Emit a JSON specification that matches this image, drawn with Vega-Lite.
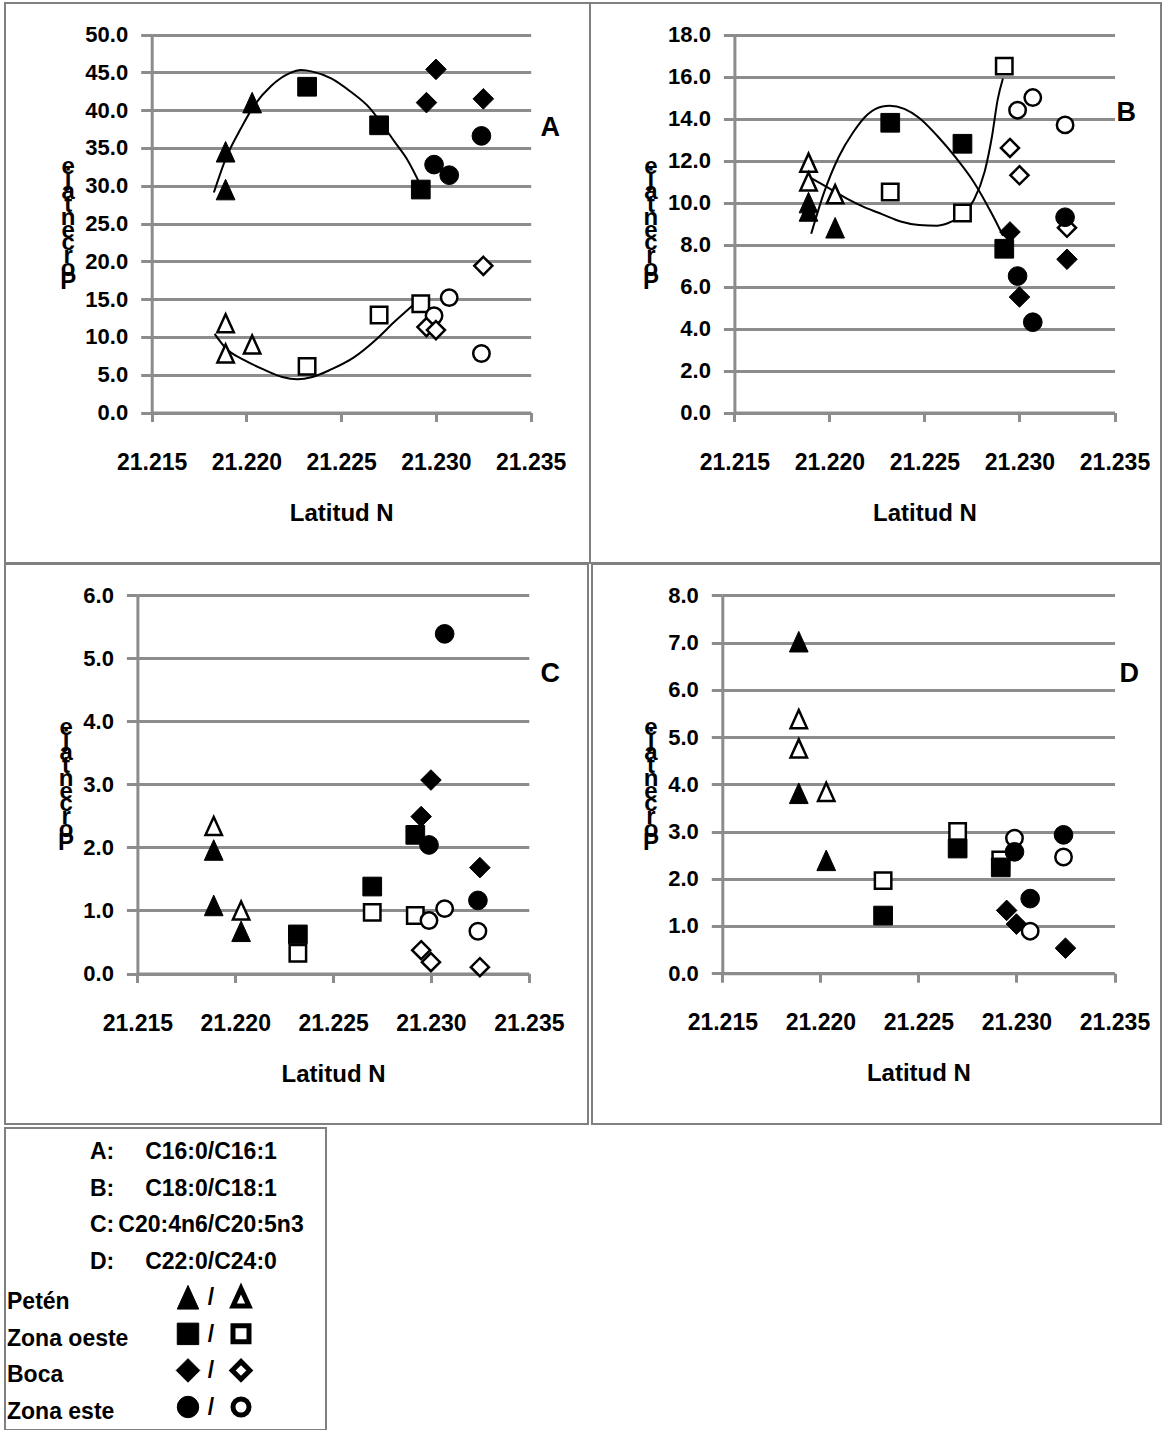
{
  "$schema": "https://vega.github.io/schema/vega-lite/v6.json",
  "padding": {"left": 4, "top": 2, "right": 0, "bottom": 0},
  "background": "white",
  "datasets": {
    "muestras": [
      {"panel": "A", "zona": "Petén", "tipo": "lleno", "lat": 21.2189, "valor": 34.5},
      {"panel": "A", "zona": "Petén", "tipo": "lleno", "lat": 21.2189, "valor": 29.5},
      {"panel": "A", "zona": "Petén", "tipo": "lleno", "lat": 21.2203, "valor": 41.0},
      {"panel": "A", "zona": "Petén", "tipo": "vacio", "lat": 21.2189, "valor": 11.8},
      {"panel": "A", "zona": "Petén", "tipo": "vacio", "lat": 21.2189, "valor": 7.8},
      {"panel": "A", "zona": "Petén", "tipo": "vacio", "lat": 21.2203, "valor": 9.0},
      {"panel": "A", "zona": "Zona oeste", "tipo": "lleno", "lat": 21.2232, "valor": 43.1},
      {"panel": "A", "zona": "Zona oeste", "tipo": "lleno", "lat": 21.2270, "valor": 38.0},
      {"panel": "A", "zona": "Zona oeste", "tipo": "lleno", "lat": 21.2292, "valor": 29.5},
      {"panel": "A", "zona": "Zona oeste", "tipo": "vacio", "lat": 21.2232, "valor": 6.1},
      {"panel": "A", "zona": "Zona oeste", "tipo": "vacio", "lat": 21.2270, "valor": 12.9},
      {"panel": "A", "zona": "Zona oeste", "tipo": "vacio", "lat": 21.2292, "valor": 14.4},
      {"panel": "A", "zona": "Zona este", "tipo": "lleno", "lat": 21.2299, "valor": 32.8},
      {"panel": "A", "zona": "Zona este", "tipo": "lleno", "lat": 21.2307, "valor": 31.4},
      {"panel": "A", "zona": "Zona este", "tipo": "lleno", "lat": 21.2324, "valor": 36.6},
      {"panel": "A", "zona": "Zona este", "tipo": "vacio", "lat": 21.2299, "valor": 12.8},
      {"panel": "A", "zona": "Zona este", "tipo": "vacio", "lat": 21.2307, "valor": 15.2},
      {"panel": "A", "zona": "Zona este", "tipo": "vacio", "lat": 21.2324, "valor": 7.8},
      {"panel": "A", "zona": "Boca", "tipo": "lleno", "lat": 21.2295, "valor": 41.0},
      {"panel": "A", "zona": "Boca", "tipo": "lleno", "lat": 21.2300, "valor": 45.4},
      {"panel": "A", "zona": "Boca", "tipo": "lleno", "lat": 21.2325, "valor": 41.5},
      {"panel": "A", "zona": "Boca", "tipo": "vacio", "lat": 21.2295, "valor": 11.3},
      {"panel": "A", "zona": "Boca", "tipo": "vacio", "lat": 21.2300, "valor": 10.9},
      {"panel": "A", "zona": "Boca", "tipo": "vacio", "lat": 21.2325, "valor": 19.4},

      {"panel": "B", "zona": "Petén", "tipo": "lleno", "lat": 21.2189, "valor": 10.0},
      {"panel": "B", "zona": "Petén", "tipo": "lleno", "lat": 21.2189, "valor": 9.6},
      {"panel": "B", "zona": "Petén", "tipo": "lleno", "lat": 21.2203, "valor": 8.8},
      {"panel": "B", "zona": "Petén", "tipo": "vacio", "lat": 21.2189, "valor": 11.9},
      {"panel": "B", "zona": "Petén", "tipo": "vacio", "lat": 21.2189, "valor": 11.0},
      {"panel": "B", "zona": "Petén", "tipo": "vacio", "lat": 21.2203, "valor": 10.4},
      {"panel": "B", "zona": "Zona oeste", "tipo": "lleno", "lat": 21.2232, "valor": 13.8},
      {"panel": "B", "zona": "Zona oeste", "tipo": "lleno", "lat": 21.2270, "valor": 12.8},
      {"panel": "B", "zona": "Zona oeste", "tipo": "lleno", "lat": 21.2292, "valor": 7.8},
      {"panel": "B", "zona": "Zona oeste", "tipo": "vacio", "lat": 21.2232, "valor": 10.5},
      {"panel": "B", "zona": "Zona oeste", "tipo": "vacio", "lat": 21.2270, "valor": 9.5},
      {"panel": "B", "zona": "Zona oeste", "tipo": "vacio", "lat": 21.2292, "valor": 16.5},
      {"panel": "B", "zona": "Zona este", "tipo": "lleno", "lat": 21.2299, "valor": 6.5},
      {"panel": "B", "zona": "Zona este", "tipo": "lleno", "lat": 21.2307, "valor": 4.3},
      {"panel": "B", "zona": "Zona este", "tipo": "lleno", "lat": 21.2324, "valor": 9.3},
      {"panel": "B", "zona": "Zona este", "tipo": "vacio", "lat": 21.2299, "valor": 14.4},
      {"panel": "B", "zona": "Zona este", "tipo": "vacio", "lat": 21.2307, "valor": 15.0},
      {"panel": "B", "zona": "Zona este", "tipo": "vacio", "lat": 21.2324, "valor": 13.7},
      {"panel": "B", "zona": "Boca", "tipo": "lleno", "lat": 21.2295, "valor": 8.6},
      {"panel": "B", "zona": "Boca", "tipo": "lleno", "lat": 21.2300, "valor": 5.5},
      {"panel": "B", "zona": "Boca", "tipo": "lleno", "lat": 21.2325, "valor": 7.3},
      {"panel": "B", "zona": "Boca", "tipo": "vacio", "lat": 21.2295, "valor": 12.6},
      {"panel": "B", "zona": "Boca", "tipo": "vacio", "lat": 21.2300, "valor": 11.3},
      {"panel": "B", "zona": "Boca", "tipo": "vacio", "lat": 21.2325, "valor": 8.8},

      {"panel": "C", "zona": "Petén", "tipo": "lleno", "lat": 21.2189, "valor": 1.96},
      {"panel": "C", "zona": "Petén", "tipo": "lleno", "lat": 21.2189, "valor": 1.08},
      {"panel": "C", "zona": "Petén", "tipo": "lleno", "lat": 21.2203, "valor": 0.67},
      {"panel": "C", "zona": "Petén", "tipo": "vacio", "lat": 21.2189, "valor": 2.34},
      {"panel": "C", "zona": "Petén", "tipo": "vacio", "lat": 21.2203, "valor": 1.0},
      {"panel": "C", "zona": "Zona oeste", "tipo": "lleno", "lat": 21.2232, "valor": 0.62},
      {"panel": "C", "zona": "Zona oeste", "tipo": "lleno", "lat": 21.2270, "valor": 1.38},
      {"panel": "C", "zona": "Zona oeste", "tipo": "lleno", "lat": 21.2292, "valor": 2.2},
      {"panel": "C", "zona": "Zona oeste", "tipo": "vacio", "lat": 21.2232, "valor": 0.32},
      {"panel": "C", "zona": "Zona oeste", "tipo": "vacio", "lat": 21.2270, "valor": 0.97},
      {"panel": "C", "zona": "Zona oeste", "tipo": "vacio", "lat": 21.2292, "valor": 0.92},
      {"panel": "C", "zona": "Zona este", "tipo": "lleno", "lat": 21.2299, "valor": 2.04},
      {"panel": "C", "zona": "Zona este", "tipo": "lleno", "lat": 21.2307, "valor": 5.39},
      {"panel": "C", "zona": "Zona este", "tipo": "lleno", "lat": 21.2324, "valor": 1.16},
      {"panel": "C", "zona": "Zona este", "tipo": "vacio", "lat": 21.2299, "valor": 0.84},
      {"panel": "C", "zona": "Zona este", "tipo": "vacio", "lat": 21.2307, "valor": 1.03},
      {"panel": "C", "zona": "Zona este", "tipo": "vacio", "lat": 21.2324, "valor": 0.67},
      {"panel": "C", "zona": "Boca", "tipo": "lleno", "lat": 21.2295, "valor": 2.49},
      {"panel": "C", "zona": "Boca", "tipo": "lleno", "lat": 21.2300, "valor": 3.07},
      {"panel": "C", "zona": "Boca", "tipo": "lleno", "lat": 21.2325, "valor": 1.68},
      {"panel": "C", "zona": "Boca", "tipo": "vacio", "lat": 21.2295, "valor": 0.37},
      {"panel": "C", "zona": "Boca", "tipo": "vacio", "lat": 21.2300, "valor": 0.18},
      {"panel": "C", "zona": "Boca", "tipo": "vacio", "lat": 21.2325, "valor": 0.1},

      {"panel": "D", "zona": "Petén", "tipo": "lleno", "lat": 21.2189, "valor": 7.02},
      {"panel": "D", "zona": "Petén", "tipo": "lleno", "lat": 21.2189, "valor": 3.81},
      {"panel": "D", "zona": "Petén", "tipo": "lleno", "lat": 21.2203, "valor": 2.39},
      {"panel": "D", "zona": "Petén", "tipo": "vacio", "lat": 21.2189, "valor": 5.38},
      {"panel": "D", "zona": "Petén", "tipo": "vacio", "lat": 21.2189, "valor": 4.76},
      {"panel": "D", "zona": "Petén", "tipo": "vacio", "lat": 21.2203, "valor": 3.84},
      {"panel": "D", "zona": "Zona oeste", "tipo": "lleno", "lat": 21.2232, "valor": 1.22},
      {"panel": "D", "zona": "Zona oeste", "tipo": "lleno", "lat": 21.2270, "valor": 2.64},
      {"panel": "D", "zona": "Zona oeste", "tipo": "lleno", "lat": 21.2292, "valor": 2.24},
      {"panel": "D", "zona": "Zona oeste", "tipo": "vacio", "lat": 21.2232, "valor": 1.96},
      {"panel": "D", "zona": "Zona oeste", "tipo": "vacio", "lat": 21.2270, "valor": 3.0},
      {"panel": "D", "zona": "Zona oeste", "tipo": "vacio", "lat": 21.2292, "valor": 2.4},
      {"panel": "D", "zona": "Zona este", "tipo": "lleno", "lat": 21.2299, "valor": 2.57},
      {"panel": "D", "zona": "Zona este", "tipo": "lleno", "lat": 21.2307, "valor": 1.58},
      {"panel": "D", "zona": "Zona este", "tipo": "lleno", "lat": 21.2324, "valor": 2.93},
      {"panel": "D", "zona": "Zona este", "tipo": "vacio", "lat": 21.2299, "valor": 2.86},
      {"panel": "D", "zona": "Zona este", "tipo": "vacio", "lat": 21.2307, "valor": 0.89},
      {"panel": "D", "zona": "Zona este", "tipo": "vacio", "lat": 21.2324, "valor": 2.46},
      {"panel": "D", "zona": "Boca", "tipo": "lleno", "lat": 21.2295, "valor": 1.33},
      {"panel": "D", "zona": "Boca", "tipo": "lleno", "lat": 21.2300, "valor": 1.04},
      {"panel": "D", "zona": "Boca", "tipo": "lleno", "lat": 21.2325, "valor": 0.53}
    ],
    "tendencias": [
      {"panel": "A", "serie": "lleno", "lat": 21.21828, "valor": 29.1},
      {"panel": "A", "serie": "lleno", "lat": 21.21891, "valor": 33.6},
      {"panel": "A", "serie": "lleno", "lat": 21.21971, "valor": 37.6},
      {"panel": "A", "serie": "lleno", "lat": 21.22040, "valor": 40.6},
      {"panel": "A", "serie": "lleno", "lat": 21.22130, "valor": 43.2},
      {"panel": "A", "serie": "lleno", "lat": 21.22229, "valor": 44.9},
      {"panel": "A", "serie": "lleno", "lat": 21.22288, "valor": 45.3},
      {"panel": "A", "serie": "lleno", "lat": 21.22348, "valor": 45.1},
      {"panel": "A", "serie": "lleno", "lat": 21.22447, "valor": 44.2},
      {"panel": "A", "serie": "lleno", "lat": 21.22547, "valor": 42.5},
      {"panel": "A", "serie": "lleno", "lat": 21.22646, "valor": 40.4},
      {"panel": "A", "serie": "lleno", "lat": 21.22706, "valor": 38.5},
      {"panel": "A", "serie": "lleno", "lat": 21.22785, "valor": 35.7},
      {"panel": "A", "serie": "lleno", "lat": 21.22845, "valor": 33.6},
      {"panel": "A", "serie": "lleno", "lat": 21.22920, "valor": 30.0},
      {"panel": "A", "serie": "vacio", "lat": 21.21832, "valor": 10.4},
      {"panel": "A", "serie": "vacio", "lat": 21.21891, "valor": 8.5},
      {"panel": "A", "serie": "vacio", "lat": 21.21991, "valor": 6.9},
      {"panel": "A", "serie": "vacio", "lat": 21.22090, "valor": 5.7},
      {"panel": "A", "serie": "vacio", "lat": 21.22189, "valor": 4.7},
      {"panel": "A", "serie": "vacio", "lat": 21.22269, "valor": 4.4},
      {"panel": "A", "serie": "vacio", "lat": 21.22348, "valor": 4.7},
      {"panel": "A", "serie": "vacio", "lat": 21.22447, "valor": 5.7},
      {"panel": "A", "serie": "vacio", "lat": 21.22567, "valor": 7.3},
      {"panel": "A", "serie": "vacio", "lat": 21.22686, "valor": 9.7},
      {"panel": "A", "serie": "vacio", "lat": 21.22785, "valor": 12.1},
      {"panel": "A", "serie": "vacio", "lat": 21.22865, "valor": 13.9},
      {"panel": "A", "serie": "vacio", "lat": 21.22920, "valor": 15.1},
      {"panel": "B", "serie": "lleno", "lat": 21.21904, "valor": 8.51},
      {"panel": "B", "serie": "lleno", "lat": 21.21971, "valor": 10.46},
      {"panel": "B", "serie": "lleno", "lat": 21.22048, "valor": 12.16},
      {"panel": "B", "serie": "lleno", "lat": 21.22125, "valor": 13.35},
      {"panel": "B", "serie": "lleno", "lat": 21.22202, "valor": 14.21},
      {"panel": "B", "serie": "lleno", "lat": 21.22279, "valor": 14.58},
      {"panel": "B", "serie": "lleno", "lat": 21.22317, "valor": 14.61},
      {"panel": "B", "serie": "lleno", "lat": 21.22394, "valor": 14.46},
      {"panel": "B", "serie": "lleno", "lat": 21.22471, "valor": 14.04},
      {"panel": "B", "serie": "lleno", "lat": 21.22567, "valor": 13.18},
      {"panel": "B", "serie": "lleno", "lat": 21.22663, "valor": 12.16},
      {"panel": "B", "serie": "lleno", "lat": 21.22760, "valor": 10.97},
      {"panel": "B", "serie": "lleno", "lat": 21.22856, "valor": 9.44},
      {"panel": "B", "serie": "lleno", "lat": 21.22913, "valor": 8.42},
      {"panel": "B", "serie": "vacio", "lat": 21.21890, "valor": 11.23},
      {"panel": "B", "serie": "vacio", "lat": 21.21990, "valor": 10.72},
      {"panel": "B", "serie": "vacio", "lat": 21.22087, "valor": 10.21},
      {"panel": "B", "serie": "vacio", "lat": 21.22183, "valor": 9.78},
      {"panel": "B", "serie": "vacio", "lat": 21.22279, "valor": 9.44},
      {"panel": "B", "serie": "vacio", "lat": 21.22375, "valor": 9.10},
      {"panel": "B", "serie": "vacio", "lat": 21.22471, "valor": 8.93},
      {"panel": "B", "serie": "vacio", "lat": 21.22567, "valor": 8.90},
      {"panel": "B", "serie": "vacio", "lat": 21.22644, "valor": 9.10},
      {"panel": "B", "serie": "vacio", "lat": 21.22702, "valor": 9.44},
      {"panel": "B", "serie": "vacio", "lat": 21.22760, "valor": 10.12},
      {"panel": "B", "serie": "vacio", "lat": 21.22817, "valor": 11.48},
      {"panel": "B", "serie": "vacio", "lat": 21.22856, "valor": 13.18},
      {"panel": "B", "serie": "vacio", "lat": 21.22885, "valor": 14.89},
      {"panel": "B", "serie": "vacio", "lat": 21.22913, "valor": 15.91}
    ],
    "leyenda": [
      {"fila": "A", "columna": "letra", "texto": "A:", "formula": "C16:0/C16:1"},
      {"fila": "B", "columna": "letra", "texto": "B:", "formula": "C18:0/C18:1"},
      {"fila": "C", "columna": "letra", "texto": "C:", "formula": "C20:4n6/C20:5n3"},
      {"fila": "D", "columna": "letra", "texto": "D:", "formula": "C22:0/C24:0"},
      {"fila": "Petén", "columna": "nombre", "texto": "Petén"},
      {"fila": "Zona oeste", "columna": "nombre", "texto": "Zona oeste"},
      {"fila": "Boca", "columna": "nombre", "texto": "Boca"},
      {"fila": "Zona este", "columna": "nombre", "texto": "Zona este"},
      {"fila": "Petén", "columna": "relleno"},
      {"fila": "Zona oeste", "columna": "relleno"},
      {"fila": "Boca", "columna": "relleno"},
      {"fila": "Zona este", "columna": "relleno"},
      {"fila": "Petén", "columna": "hueco"},
      {"fila": "Zona oeste", "columna": "hueco"},
      {"fila": "Boca", "columna": "hueco"},
      {"fila": "Zona este", "columna": "hueco"}
    ]
  },
  "vconcat": [
    {
      "vconcat": [
        {
          "hconcat": [
            {
              "width": 585, "height": 560,
              "title": {"text": "A", "orient": "top", "anchor": "end", "frame": "group", "offset": -139, "dx": -30},
              "data": {"name": "muestras"},
              "transform": [{"filter": "datum.panel === 'A'"}],
              "encoding": {
                "x": {"field": "lat", "type": "quantitative",
                  "scale": {"domain": [21.215, 21.235], "range": [146.7, 525.7], "zero": false, "nice": false},
                  "axis": {"title": "Latitud N", "values": [21.215, 21.22, 21.225, 21.23, 21.235], "format": ".3f", "offset": -150.5}},
                "y": {"field": "valor", "type": "quantitative",
                  "scale": {"domain": [0, 50], "range": [409.5, 31.6], "nice": false, "zero": false},
                  "axis": {"title": ["e", "j", "a", "t", "n", "e", "c", "r", "o", "P"], "values": [0, 5, 10, 15, 20, 25, 30, 35, 40, 45, 50], "format": ".1f", "offset": -146.7}}
              },
              "layer": [
                {"data": {"name": "tendencias"},
                 "transform": [{"filter": "datum.panel === 'A'"}],
                 "mark": {"type": "line", "color": "black", "strokeWidth": 2, "interpolate": "monotone"},
                 "encoding": {"detail": {"field": "serie", "type": "nominal"}}},
                {"transform": [{"filter": "datum.tipo === 'vacio'"}],
                 "mark": {"type": "point", "filled": true, "fill": "white", "stroke": "black", "strokeWidth": 2.5, "opacity": 1, "size": 270},
                 "encoding": {"shape": {"field": "zona", "type": "nominal", "legend": null, "scale": {"domain": ["Petén", "Zona oeste", "Boca", "Zona este"], "range": ["M0,-1.1L1,1.1L-1,1.1Z", "square", "M0,-1.1L1.1,0L0,1.1L-1.1,0Z", "circle"]}}}},
                {"transform": [{"filter": "datum.tipo === 'lleno'"}],
                 "mark": {"type": "point", "filled": true, "fill": "black", "stroke": "black", "strokeWidth": 1, "opacity": 1, "size": 350},
                 "encoding": {"shape": {"field": "zona", "type": "nominal", "legend": null, "scale": {"domain": ["Petén", "Zona oeste", "Boca", "Zona este"], "range": ["M0,-1.1L1,1.1L-1,1.1Z", "square", "M0,-1.1L1.1,0L0,1.1L-1.1,0Z", "circle"]}}}}
              ]
            },
            {
              "width": 571, "height": 560,
              "title": {"text": "B", "orient": "top", "anchor": "end", "frame": "group", "offset": -124, "dx": -25},
              "data": {"name": "muestras"},
              "transform": [{"filter": "datum.panel === 'B'"}],
              "encoding": {
                "x": {"field": "lat", "type": "quantitative",
                  "scale": {"domain": [21.215, 21.235], "range": [144.4, 524.5], "zero": false, "nice": false},
                  "axis": {"title": "Latitud N", "values": [21.215, 21.22, 21.225, 21.23, 21.235], "format": ".3f", "offset": -150.5}},
                "y": {"field": "valor", "type": "quantitative",
                  "scale": {"domain": [0, 18], "range": [409.5, 31.6], "nice": false, "zero": false},
                  "axis": {"title": ["e", "j", "a", "t", "n", "e", "c", "r", "o", "P"], "values": [0, 2, 4, 6, 8, 10, 12, 14, 16, 18], "format": ".1f", "offset": -144.4}}
              },
              "layer": [
                {"data": {"name": "tendencias"},
                 "transform": [{"filter": "datum.panel === 'B'"}],
                 "mark": {"type": "line", "color": "black", "strokeWidth": 2, "interpolate": "monotone"},
                 "encoding": {"detail": {"field": "serie", "type": "nominal"}}},
                {"transform": [{"filter": "datum.tipo === 'vacio'"}],
                 "mark": {"type": "point", "filled": true, "fill": "white", "stroke": "black", "strokeWidth": 2.5, "opacity": 1, "size": 270},
                 "encoding": {"shape": {"field": "zona", "type": "nominal", "legend": null, "scale": {"domain": ["Petén", "Zona oeste", "Boca", "Zona este"], "range": ["M0,-1.1L1,1.1L-1,1.1Z", "square", "M0,-1.1L1.1,0L0,1.1L-1.1,0Z", "circle"]}}}},
                {"transform": [{"filter": "datum.tipo === 'lleno'"}],
                 "mark": {"type": "point", "filled": true, "fill": "black", "stroke": "black", "strokeWidth": 1, "opacity": 1, "size": 350},
                 "encoding": {"shape": {"field": "zona", "type": "nominal", "legend": null, "scale": {"domain": ["Petén", "Zona oeste", "Boca", "Zona este"], "range": ["M0,-1.1L1,1.1L-1,1.1Z", "square", "M0,-1.1L1.1,0L0,1.1L-1.1,0Z", "circle"]}}}}
              ]
            }
          ],
          "spacing": 0, "bounds": "flush"
        },
        {
          "hconcat": [
            {
              "width": 583, "height": 560,
              "title": {"text": "C", "orient": "top", "anchor": "end", "frame": "group", "offset": -124, "dx": -28},
              "data": {"name": "muestras"},
              "transform": [{"filter": "datum.panel === 'C'"}],
              "encoding": {
                "x": {"field": "lat", "type": "quantitative",
                  "scale": {"domain": [21.215, 21.235], "range": [132.4, 523.8], "zero": false, "nice": false},
                  "axis": {"title": "Latitud N", "values": [21.215, 21.22, 21.225, 21.23, 21.235], "format": ".3f", "offset": -150.5}},
                "y": {"field": "valor", "type": "quantitative",
                  "scale": {"domain": [0, 6], "range": [409.5, 31.4], "nice": false, "zero": false},
                  "axis": {"title": ["e", "j", "a", "t", "n", "e", "c", "r", "o", "P"], "values": [0, 1, 2, 3, 4, 5, 6], "format": ".1f", "offset": -132.4}}
              },
              "layer": [
                {"transform": [{"filter": "datum.tipo === 'vacio'"}],
                 "mark": {"type": "point", "filled": true, "fill": "white", "stroke": "black", "strokeWidth": 2.5, "opacity": 1, "size": 270},
                 "encoding": {"shape": {"field": "zona", "type": "nominal", "legend": null, "scale": {"domain": ["Petén", "Zona oeste", "Boca", "Zona este"], "range": ["M0,-1.1L1,1.1L-1,1.1Z", "square", "M0,-1.1L1.1,0L0,1.1L-1.1,0Z", "circle"]}}}},
                {"transform": [{"filter": "datum.tipo === 'lleno'"}],
                 "mark": {"type": "point", "filled": true, "fill": "black", "stroke": "black", "strokeWidth": 1, "opacity": 1, "size": 350},
                 "encoding": {"shape": {"field": "zona", "type": "nominal", "legend": null, "scale": {"domain": ["Petén", "Zona oeste", "Boca", "Zona este"], "range": ["M0,-1.1L1,1.1L-1,1.1Z", "square", "M0,-1.1L1.1,0L0,1.1L-1.1,0Z", "circle"]}}}}
              ]
            },
            {
              "width": 569, "height": 560,
              "title": {"text": "D", "orient": "top", "anchor": "end", "frame": "group", "offset": -124, "dx": -22},
              "data": {"name": "muestras"},
              "transform": [{"filter": "datum.panel === 'D'"}],
              "encoding": {
                "x": {"field": "lat", "type": "quantitative",
                  "scale": {"domain": [21.215, 21.235], "range": [130.3, 522.5], "zero": false, "nice": false},
                  "axis": {"title": "Latitud N", "values": [21.215, 21.22, 21.225, 21.23, 21.235], "format": ".3f", "offset": -150.8}},
                "y": {"field": "valor", "type": "quantitative",
                  "scale": {"domain": [0, 8], "range": [409.2, 31.4], "nice": false, "zero": false},
                  "axis": {"title": ["e", "j", "a", "t", "n", "e", "c", "r", "o", "P"], "values": [0, 1, 2, 3, 4, 5, 6, 7, 8], "format": ".1f", "offset": -130.3}}
              },
              "layer": [
                {"transform": [{"filter": "datum.tipo === 'vacio'"}],
                 "mark": {"type": "point", "filled": true, "fill": "white", "stroke": "black", "strokeWidth": 2.5, "opacity": 1, "size": 270},
                 "encoding": {"shape": {"field": "zona", "type": "nominal", "legend": null, "scale": {"domain": ["Petén", "Zona oeste", "Boca", "Zona este"], "range": ["M0,-1.1L1,1.1L-1,1.1Z", "square", "M0,-1.1L1.1,0L0,1.1L-1.1,0Z", "circle"]}}}},
                {"transform": [{"filter": "datum.tipo === 'lleno'"}],
                 "mark": {"type": "point", "filled": true, "fill": "black", "stroke": "black", "strokeWidth": 1, "opacity": 1, "size": 350},
                 "encoding": {"shape": {"field": "zona", "type": "nominal", "legend": null, "scale": {"domain": ["Petén", "Zona oeste", "Boca", "Zona este"], "range": ["M0,-1.1L1,1.1L-1,1.1Z", "square", "M0,-1.1L1.1,0L0,1.1L-1.1,0Z", "circle"]}}}}
              ]
            }
          ],
          "spacing": 4, "bounds": "flush"
        }
      ],
      "spacing": -2, "bounds": "full"
    },
    {
      "width": 321, "height": 302,
      "data": {"name": "leyenda"},
      "encoding": {
        "x": {"field": "columna", "type": "nominal", "axis": null,
          "scale": {"type": "point", "domain": ["nombre", "letra", "relleno", "hueco"], "range": [77, 236], "padding": 0}},
        "y": {"field": "fila", "type": "nominal", "axis": null,
          "scale": {"type": "point", "domain": ["A", "B", "C", "D", "Petén", "Zona oeste", "Boca", "Zona este"], "range": [23, 279], "padding": 0}}
      },
      "layer": [
        {"transform": [{"filter": "datum.columna === 'nombre'"}],
         "mark": {"type": "text", "align": "left", "baseline": "middle", "dx": -75, "dy": 5, "font": "Liberation Sans", "fontWeight": "bold", "fontSize": 23, "color": "black"},
         "encoding": {"text": {"field": "texto"}}},
        {"transform": [{"filter": "datum.columna === 'letra'"}],
         "mark": {"type": "text", "align": "left", "baseline": "middle", "dx": -45, "dy": 1, "font": "Liberation Sans", "fontWeight": "bold", "fontSize": 23, "color": "black"},
         "encoding": {"text": {"field": "texto"}}},
        {"transform": [{"filter": "datum.columna === 'letra'"}],
         "mark": {"type": "text", "align": "center", "baseline": "middle", "dx": 76, "dy": 1, "font": "Liberation Sans", "fontWeight": "bold", "fontSize": 23, "color": "black"},
         "encoding": {"text": {"field": "formula"}}},
        {"transform": [{"filter": "datum.columna === 'relleno'"}],
         "mark": {"type": "text", "align": "center", "baseline": "middle", "dx": 23, "dy": 1, "font": "Liberation Sans", "fontWeight": "bold", "fontSize": 23, "color": "black", "text": "/"},
         "encoding": {}},
        {"transform": [{"filter": "datum.columna === 'relleno'"}],
         "mark": {"type": "point", "filled": true, "fill": "black", "stroke": "black", "strokeWidth": 1, "opacity": 1, "size": 460},
         "encoding": {"shape": {"field": "fila", "type": "nominal", "legend": null, "scale": {"domain": ["Petén", "Zona oeste", "Boca", "Zona este"], "range": ["triangle-up", "square", "M0,-1.1L1.1,0L0,1.1L-1.1,0Z", "circle"]}}}},
        {"transform": [{"filter": "datum.columna === 'hueco'"}],
         "mark": {"type": "point", "filled": true, "fill": "white", "stroke": "black", "strokeWidth": 5, "opacity": 1, "size": 256},
         "encoding": {"shape": {"field": "fila", "type": "nominal", "legend": null, "scale": {"domain": ["Petén", "Zona oeste", "Boca", "Zona este"], "range": ["triangle-up", "square", "M0,-1.1L1.1,0L0,1.1L-1.1,0Z", "circle"]}}}}
      ]
    }
  ],
  "spacing": 2,
  "bounds": "full",
  "config": {
    "font": "Liberation Sans",
    "view": {"stroke": "#808080", "strokeWidth": 2},
    "title": {"font": "Liberation Sans", "fontWeight": "bold", "fontSize": 27, "color": "black"},
    "axis": {
      "labelFont": "Liberation Sans", "labelFontWeight": "bold", "labelColor": "black",
      "titleFont": "Liberation Sans", "titleFontWeight": "bold", "titleColor": "black",
      "domainColor": "#8c8c8c", "domainWidth": 3, "tickColor": "#8c8c8c", "tickWidth": 3,
      "gridColor": "#8c8c8c", "gridWidth": 3,
      "labelFlush": false, "labelOverlap": false, "labelBound": false
    },
    "axisX": {"grid": false, "tickSize": 9, "labelPadding": 29.6, "labelFontSize": 23, "titleFontSize": 24, "titlePadding": 27},
    "axisY": {"grid": true, "tickSize": 11, "labelPadding": 13, "labelFontSize": 22,
      "titleAngle": 0, "titleAlign": "center", "titleBaseline": "middle", "titleY": 163,
      "titleFontSize": 24, "titleLineHeight": 12.8, "titlePadding": -98}
  }
}
